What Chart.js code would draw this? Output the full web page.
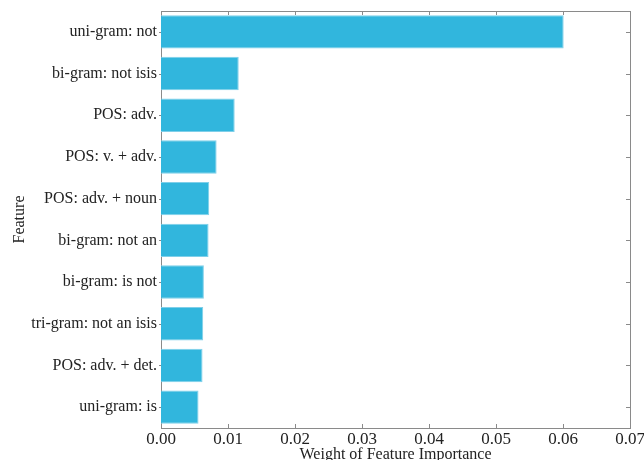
<!DOCTYPE html>
<html>
<head>
<meta charset="utf-8">
<script src="https://cdn.jsdelivr.net/npm/chart.js@4/dist/chart.umd.min.js"></script>
<style>
  html, body { margin: 0; padding: 0; background: #fff; overflow: hidden; }
  #wrap { width: 644px; height: 460px; position: relative; }
</style>
</head>
<body>
<div id="wrap"><canvas id="chart"></canvas></div>
<script>
// Feature names, top to bottom
const features = [
  'uni-gram: not',
  'bi-gram: not isis',
  'POS: adv.',
  'POS: v. + adv.',
  'POS: adv. + noun',
  'bi-gram: not an',
  'bi-gram: is not',
  'tri-gram: not an isis',
  'POS: adv. + det.',
  'uni-gram: is'
];
// Importance weight of each feature
const weights = [0.0601, 0.0116, 0.0110, 0.0083, 0.0072, 0.0071, 0.0064, 0.0063, 0.0062, 0.0056];
// Horizontal axis range and tick spacing
const xMin = 0.00;
const xMax = 0.07;
const xStep = 0.01;

const FONT = 'Liberation Serif, Times New Roman, serif';
const FRAME = '#8a8a8a';

// Frame on the top/right and short inward ticks on all four sides
const framePlugin = {
  id: 'frameTicks',
  afterDraw(chart) {
    const { ctx, chartArea: a, scales } = chart;
    ctx.save();
    ctx.strokeStyle = FRAME;
    ctx.lineWidth = 1;
    ctx.beginPath();
    ctx.moveTo(a.left, a.top + 0.5);
    ctx.lineTo(a.right + 0.5, a.top + 0.5);
    ctx.lineTo(a.right + 0.5, a.bottom);
    ctx.stroke();
    const len = 4;
    ctx.beginPath();
    scales.x.ticks.forEach((t, i) => {
      const px = Math.round(scales.x.getPixelForTick(i)) + 0.5;
      ctx.moveTo(px, a.bottom);
      ctx.lineTo(px, a.bottom - len);
      ctx.moveTo(px, a.top);
      ctx.lineTo(px, a.top + len);
    });
    scales.y.ticks.forEach((t, i) => {
      const py = Math.round(scales.y.getPixelForTick(i)) + 0.5;
      ctx.moveTo(a.right, py);
      ctx.lineTo(a.right - len, py);
      ctx.moveTo(a.left - 2, py);
      ctx.lineTo(a.left, py);
    });
    ctx.stroke();
    ctx.restore();
  }
};

new Chart(document.getElementById('chart'), {
  type: 'bar',
  data: {
    labels: features,
    datasets: [{
      data: weights,
      backgroundColor: '#31b6dd',
      borderColor: '#7fcfe9',
      borderWidth: 1,
      borderSkipped: 'start',
      categoryPercentage: 0.8,
      barPercentage: 1.0
    }]
  },
  options: {
    indexAxis: 'y',
    responsive: true,
    maintainAspectRatio: false,
    animation: false,
    layout: { padding: { top: 11, right: 14, left: 0, bottom: 0 } },
    plugins: {
      legend: { display: false },
      tooltip: { enabled: false }
    },
    scales: {
      x: {
        type: 'linear',
        min: xMin,
        max: xMax,
        grid: { display: false, drawTicks: false },
        border: { display: true, color: FRAME, width: 1 },
        ticks: {
          stepSize: xStep,
          padding: 1,
          color: '#222',
          font: { family: FONT, size: 17 },
          maxRotation: 0,
          callback: (v) => Number(v).toFixed(2)
        },
        title: {
          display: true,
          text: 'Weight of Feature Importance',
          color: '#222',
          font: { family: FONT, size: 16 },
          padding: { top: 0, bottom: -4 }
        },
        afterFit(scale) {
          scale.height = 32;
          scale.paddingLeft = 0;
          scale.paddingRight = 0;
        }
      },
      y: {
        offset: true,
        grid: { display: false, drawTicks: false },
        border: { display: true, color: FRAME, width: 1 },
        ticks: {
          padding: 4,
          color: '#222',
          font: { family: FONT, size: 16 }
        },
        title: {
          display: true,
          text: 'Feature',
          color: '#222',
          font: { family: FONT, size: 16 },
          padding: { top: 10, bottom: 0 }
        },
        afterFit(scale) {
          scale.width = 161;
          scale.paddingTop = 0;
          scale.paddingBottom = 0;
        }
      }
    }
  },
  plugins: [framePlugin]
});
</script>
</body>
</html>
